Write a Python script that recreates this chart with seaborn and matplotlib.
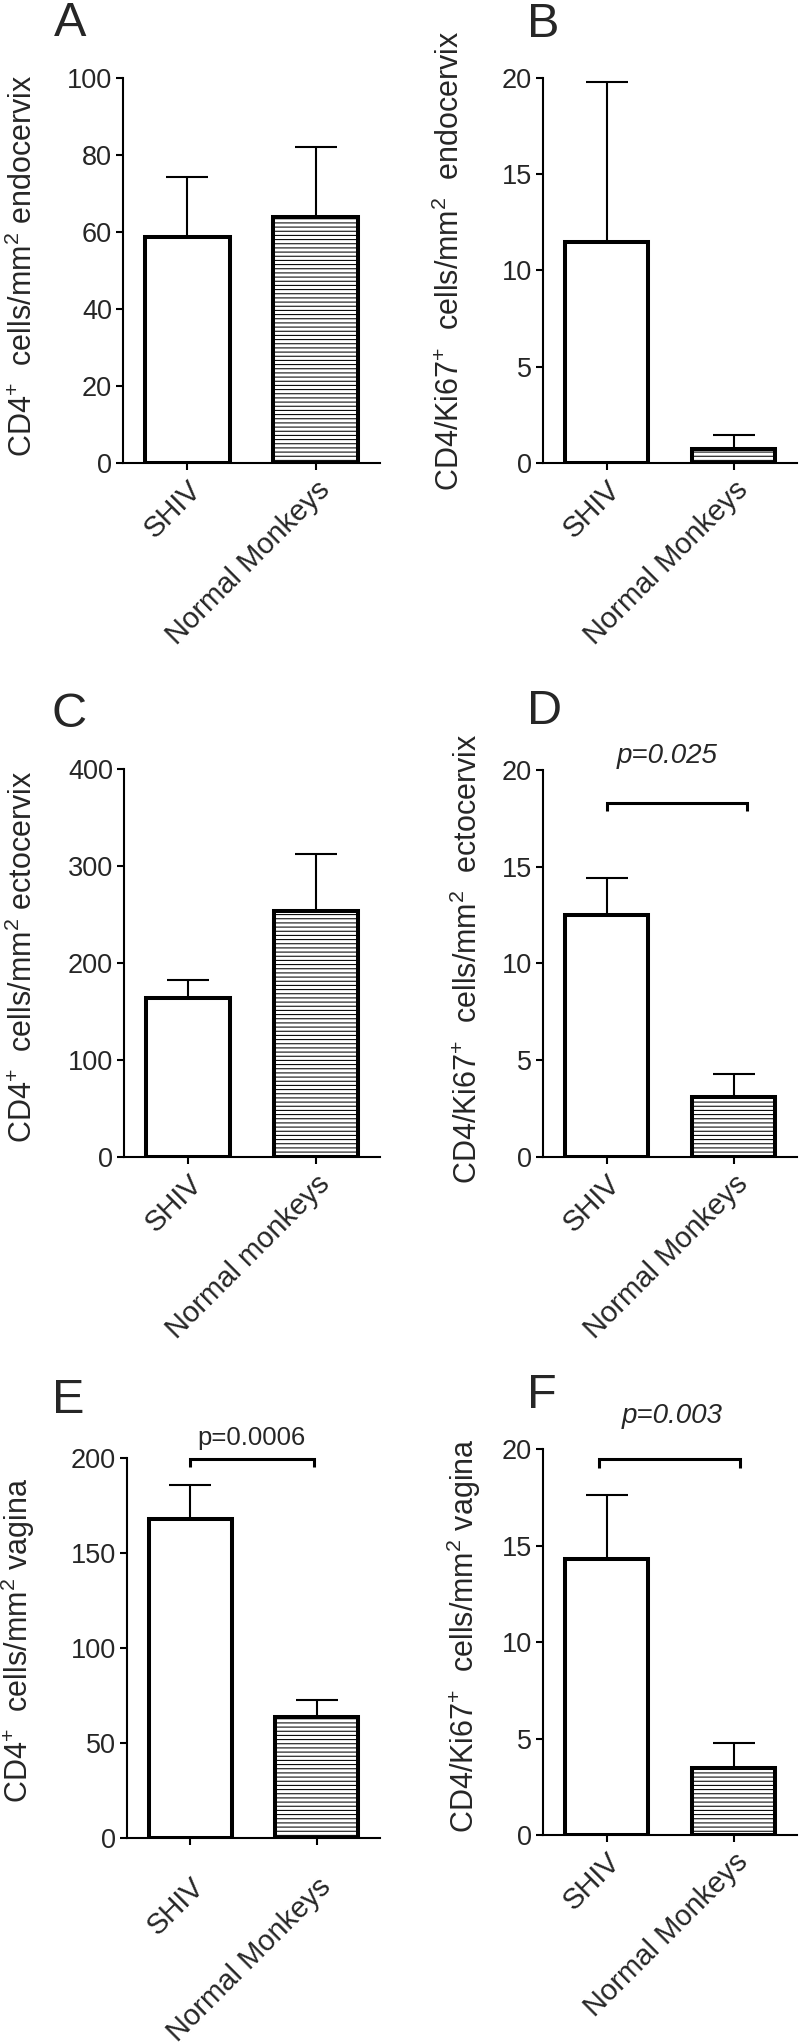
import matplotlib
matplotlib.use("Agg")
import matplotlib.pyplot as plt
import seaborn as sns
import pandas as pd

sns.set_style("ticks")
plt.rcParams['font.family'] = ['Liberation Sans', 'DejaVu Sans']
plt.rcParams['mathtext.fontset'] = 'custom'
plt.rcParams['mathtext.rm'] = 'Liberation Sans'
plt.rcParams['mathtext.it'] = 'Liberation Sans:italic'
plt.rcParams['hatch.linewidth'] = 0.75

# ---------------- data ----------------
groups_A = ["SHIV", "Normal Monkeys"]
means_A = [58.6, 64.0]
sem_A = [15.8, 18.2]

groups_B = ["SHIV", "Normal Monkeys"]
means_B = [11.5, 0.74]
sem_B = [8.3, 0.74]

groups_C = ["SHIV", "Normal monkeys"]
means_C = [163.8, 253.7]
sem_C = [18.7, 59.1]

groups_D = ["SHIV", "Normal Monkeys"]
means_D = [12.5, 3.1]
sem_D = [1.9, 1.2]

groups_E = ["SHIV", "Normal Monkeys"]
means_E = [167.8, 63.7]
sem_E = [17.8, 8.9]

groups_F = ["SHIV", "Normal Monkeys"]
means_F = [14.3, 3.45]
sem_F = [3.3, 1.3]

ylabels = [
    r"CD4$^{+}$  cells/mm$^{2}$ endocervix",
    r"CD4/Ki67$^{+}$  cells/mm$^{2}$  endocervix",
    r"CD4$^{+}$  cells/mm$^{2}$ ectocervix",
    r"CD4/Ki67$^{+}$  cells/mm$^{2}$  ectocervix",
    r"CD4$^{+}$  cells/mm$^{2}$ vagina",
    r"CD4/Ki67$^{+}$  cells/mm$^{2}$ vagina",
]
yticks = [
    [0, 20, 40, 60, 80, 100],
    [0, 5, 10, 15, 20],
    [0, 100, 200, 300, 400],
    [0, 5, 10, 15, 20],
    [0, 50, 100, 150, 200],
    [0, 5, 10, 15, 20],
]
letters = ["A", "B", "C", "D", "E", "F"]

# significance annotations: (panel index, text, italic, x0, x1, y_bar, y_leg, text_x, text_y, size)
sig = [
    (3, "p=0.025", True, 0.0, 1.11, 18.3, 17.9, 0.48, 20.7, 20),
    (4, "p=0.0006", False, 0.0, 0.976, 199.3, 195.4, 0.48, 210.3, 18.5),
    (5, "p=0.003", True, -0.06, 1.05, 19.48, 18.99, 0.52, 21.7, 20),
]

panels = [
    (groups_A, means_A, sem_A),
    (groups_B, means_B, sem_B),
    (groups_C, means_C, sem_C),
    (groups_D, means_D, sem_D),
    (groups_E, means_E, sem_E),
    (groups_F, means_F, sem_F),
]

# ---------------- layout (pixels in 800x2042) ----------------
W, H = 800, 2042
boxes = [  # left, right, top, bottom
    (123, 380, 78, 463),
    (543, 797, 78, 463),
    (124, 380, 769, 1157),
    (543, 797, 770, 1157),
    (127, 380, 1458, 1838),
    (543, 797, 1449, 1835),
]
label_coords = [(-0.327, 0.512), (-0.303, 0.526), (-0.332, 0.516),
                (-0.232, 0.513), (-0.355, 0.52), (-0.236, 0.516)]
xtick_pad = [4, 4, 4, 4, 20, 4]
letter_pos = [(54, 36), (527, 37), (52, 727), (527, 724), (52, 1413), (527, 1408)]

fig = plt.figure(figsize=(W / 100, H / 100), dpi=100)

axes = []
for i, ((g, m, s), (l, r, t, b)) in enumerate(zip(panels, boxes)):
    ax = fig.add_axes([l / W, 1 - b / H, (r - l) / W, (b - t) / H])
    axes.append(ax)
    df = pd.DataFrame({"group": g, "value": m})
    sns.barplot(data=df, x="group", y="value", ax=ax, color="white",
                saturation=1, edgecolor="black", linewidth=2.9,
                width=0.66, errorbar=None)
    ax.patches[1].set_hatch("----")
    ax.errorbar(range(len(g)), m, yerr=[[0] * len(s), s], fmt="none",
                ecolor="black", elinewidth=1.5, capsize=15, capthick=1.5,
                zorder=1)
    ax.set_xlim(-0.5, 1.5)
    ax.set_ylim(0, yticks[i][-1])
    ax.set_yticks(yticks[i])
    ax.set_xlabel("")
    ax.set_ylabel(ylabels[i], fontsize=22)
    ax.yaxis.set_label_coords(*label_coords[i])
    for sp in ["top", "right"]:
        ax.spines[sp].set_visible(False)
    for sp in ["left", "bottom"]:
        ax.spines[sp].set_linewidth(1.5)
        ax.spines[sp].set_color("black")
    ax.tick_params(axis="both", width=1.5, length=5, color="black")
    ax.tick_params(axis="y", labelsize=19.5, pad=3)
    ax.tick_params(axis="x", labelsize=21, pad=xtick_pad[i])
    for lab in ax.get_xticklabels():
        lab.set_rotation(45)
        lab.set_ha("right")
        lab.set_rotation_mode("anchor")
    fig.text(letter_pos[i][0] / W, 1 - letter_pos[i][1] / H, letters[i],
             fontsize=35, va="baseline", ha="left")

for (i, txt, ital, x0, x1, yb, yl, tx, ty, fs) in sig:
    ax = axes[i]
    ax.plot([x0, x0, x1, x1], [yl, yb, yb, yl], color="black", lw=2.2,
            clip_on=False, solid_capstyle="butt", solid_joinstyle="miter")
    ax.text(tx, ty, txt, ha="center", va="center", fontsize=fs,
            style="italic" if ital else "normal", clip_on=False)

fig.savefig("out.png", dpi=100)
